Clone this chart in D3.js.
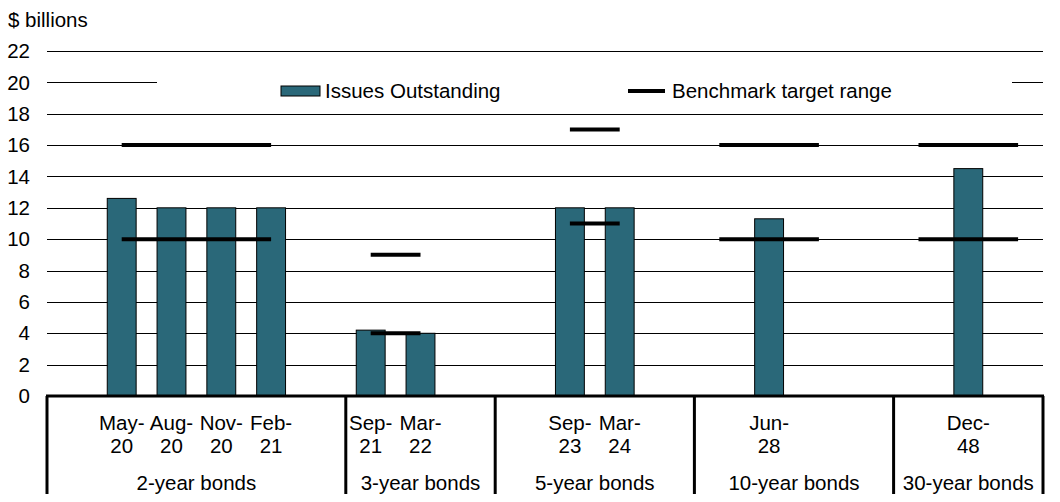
<html>
<head>
<script src="https://d3js.org/d3.v7.min.js"></script>
<style>
body { margin: 0; background: #fff; }
svg { font-family: "Liberation Sans", Arial, sans-serif; }
</style>
</head>
<body>
<div id="chart"></div>
<script>
// slots along the x axis (empty strings are spacer slots)
var slots = ["", "May-20", "Aug-20", "Nov-20", "Feb-21", "",
             "Sep-21", "Mar-22", "",
             "", "Sep-23", "Mar-24", "",
             "", "Jun-28", "", "",
             "", "Dec-48", ""];
var outstanding = [null, 12.6, 12, 12, 12, null,
                   4.2, 4, null,
                   null, 12, 12, null,
                   null, 11.3, null, null,
                   null, 14.5, null];
// bond groups: name, first slot, last slot (exclusive)
var groupNames = ["2-year bonds", "3-year bonds", "5-year bonds", "10-year bonds", "30-year bonds"];
var groupStart = [0, 6, 9, 13, 17];
var groupEnd = [6, 9, 13, 17, 20];
// benchmark target range: first slot, last slot, low, high
var rangeFrom = [1, 6, 10, 13, 17];
var rangeTo = [4, 7, 11, 15, 19];
var rangeLow = [10, 4, 11, 10, 10];
var rangeHigh = [16, 9, 17, 16, 16];
var yTicks = [0, 2, 4, 6, 8, 10, 12, 14, 16, 18, 20, 22];

var W = 1060, H = 502;
var mLeft = 47, mRight = 1043, mTop = 51, mBottom = 396;
var fs = "20.5px";

var svg = d3.select("#chart").append("svg")
  .attr("width", W).attr("height", H);

var x = d3.scaleBand().domain(d3.range(slots.length)).range([mLeft, mRight]).padding(0);
var y = d3.scaleLinear().domain([0, 22]).range([mBottom, mTop]);
var bw = x.bandwidth() * 0.58;

// gridlines
svg.append("g").selectAll("line")
  .data(yTicks.filter(function(d) { return d > 0; }))
  .enter().append("line")
  .attr("x1", mLeft).attr("x2", mRight)
  .attr("y1", function(d) { return Math.round(y(d)) + 0.5; })
  .attr("y2", function(d) { return Math.round(y(d)) + 0.5; })
  .style("stroke", "#000").style("stroke-width", 1);

// y labels
svg.append("g").selectAll("text")
  .data(yTicks).enter().append("text")
  .attr("x", 30)
  .attr("y", function(d) { return y(d); })
  .attr("dy", "0.35em")
  .attr("text-anchor", "end")
  .style("font-size", fs)
  .text(function(d) { return d; });

svg.append("text").attr("x", 8).attr("y", 27)
  .style("font-size", fs).text("$ billions");

// legend box (covers the 20 gridline)
var leg = svg.append("g");
leg.append("rect").attr("x", 157).attr("y", 72).attr("width", 855).attr("height", 30)
  .style("fill", "#fff");
leg.append("rect").attr("x", 281).attr("y", 86).attr("width", 39).attr("height", 10)
  .style("fill", "#2a6879").style("stroke", "#000").style("stroke-width", 1);
leg.append("text").attr("x", 325).attr("y", 98).style("font-size", fs).text("Issues Outstanding");
leg.append("line").attr("x1", 628).attr("x2", 665).attr("y1", 91).attr("y2", 91)
  .style("stroke", "#000").style("stroke-width", 4);
leg.append("text").attr("x", 672).attr("y", 98).style("font-size", fs).text("Benchmark target range");

// bars
svg.append("g").selectAll("rect")
  .data(outstanding.map(function(v, i) { return {i: i, v: v}; }).filter(function(d) { return d.v != null; }))
  .enter().append("rect")
  .attr("x", function(d) { return x(d.i) + (x.bandwidth() - bw) / 2; })
  .attr("y", function(d) { return y(d.v); })
  .attr("width", bw)
  .attr("height", function(d) { return mBottom - y(d.v); })
  .style("fill", "#2a6879").style("stroke", "#000").style("stroke-width", 1);

// benchmark range lines
var ranges = [];
rangeFrom.forEach(function(f, i) {
  ranges.push({from: f, to: rangeTo[i], v: rangeLow[i]});
  ranges.push({from: f, to: rangeTo[i], v: rangeHigh[i]});
});
svg.append("g").selectAll("line")
  .data(ranges).enter().append("line")
  .attr("x1", function(d) { return x(d.from) + x.bandwidth() / 2; })
  .attr("x2", function(d) { return x(d.to) + x.bandwidth() / 2; })
  .attr("y1", function(d) { return y(d.v); })
  .attr("y2", function(d) { return y(d.v); })
  .style("stroke", "#000").style("stroke-width", 4);

// category axis
svg.append("line").attr("x1", mLeft - 1).attr("x2", mRight + 1)
  .attr("y1", mBottom).attr("y2", mBottom)
  .style("stroke", "#000").style("stroke-width", 3);

var seps = groupStart.map(function(s) { return x(s); }).concat([mRight]);
svg.append("g").selectAll("line")
  .data(seps).enter().append("line")
  .attr("x1", function(d) { return d; }).attr("x2", function(d) { return d; })
  .attr("y1", mBottom).attr("y2", 494)
  .style("stroke", "#000").style("stroke-width", 3);

// slot labels, two lines
var lab = svg.append("g").selectAll("text")
  .data(slots.map(function(s, i) { return {s: s, i: i}; }).filter(function(d) { return d.s; }))
  .enter().append("text")
  .attr("text-anchor", "middle")
  .style("font-size", fs);
lab.append("tspan")
  .attr("x", function(d) { return x(d.i) + x.bandwidth() / 2; })
  .attr("y", 430)
  .text(function(d) { return d.s.split("-")[0] + "-"; });
lab.append("tspan")
  .attr("x", function(d) { return x(d.i) + x.bandwidth() / 2; })
  .attr("y", 453)
  .text(function(d) { return d.s.split("-")[1]; });

// group labels
svg.append("g").selectAll("text")
  .data(groupNames).enter().append("text")
  .attr("x", function(d, i) { return (x(groupStart[i]) + (groupEnd[i] < slots.length ? x(groupEnd[i]) : mRight)) / 2; })
  .attr("y", 490)
  .attr("text-anchor", "middle")
  .style("font-size", fs)
  .text(function(d) { return d; });
</script>
</body>
</html>
